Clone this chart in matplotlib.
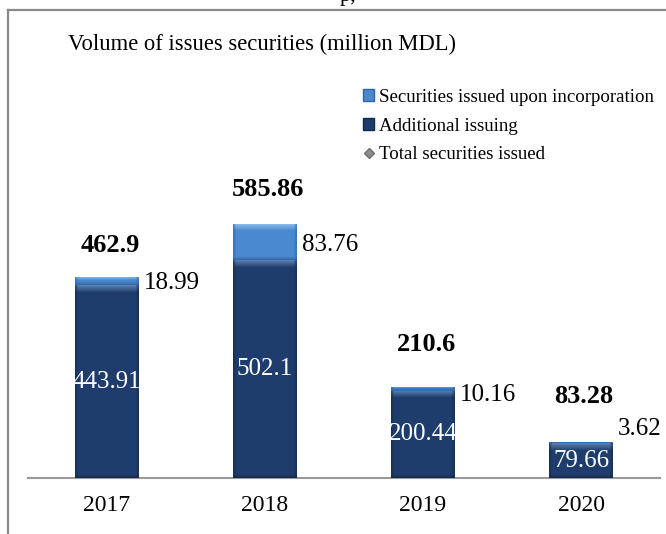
import numpy as np
import matplotlib.pyplot as plt
from matplotlib.lines import Line2D
from matplotlib.patches import Patch
from matplotlib.colors import to_rgb

years = ['2017', '2018', '2019', '2020']
additional = [443.91, 502.1, 200.44, 79.66]
incorporation = [18.99, 83.76, 10.16, 3.62]
totals = [462.9, 585.86, 210.6, 83.28]

plt.rcParams['font.family'] = ['Liberation Serif', 'DejaVu Serif']

W, H = 666, 534
fig = plt.figure(figsize=(W / 100, H / 100), dpi=100)
ax = fig.add_axes([28 / W, 56 / H, 632 / W, 418 / H])

x = np.arange(len(years))
dark_c = '#1f3d6c'
light_c = '#4a89d0'
dark_bars = ax.bar(x, additional, width=0.4, color=dark_c, zorder=2)
light_bars = ax.bar(x, incorporation, bottom=additional, width=0.4,
                    color=light_c, zorder=2)
ax.set_xlim(-0.5, len(years) - 0.5)
ax.set_ylim(0, 963)


def bevel(patch, base, hi, lo):
    # paint a bevelled gradient inside a bar patch
    x0, y0 = patch.get_x(), patch.get_y()
    w, h = patch.get_width(), patch.get_height()
    p0 = ax.transData.transform((x0, y0))
    p1 = ax.transData.transform((x0 + w, y0 + h))
    npx_h = max(int(round(p1[1] - p0[1])), 2)
    npx_w = max(int(round(p1[0] - p0[0])), 2)
    base, hi, lo = np.array(to_rgb(base)), np.array(to_rgb(hi)), np.array(to_rgb(lo))
    img = np.tile(base, (npx_h, npx_w, 1))
    band = min(7, npx_h // 3 + 1)
    for r in range(band):
        t = 1 - r / band
        img[r, :, :] = base + (hi - base) * t
    for r in range(min(3, npx_h)):
        img[npx_h - 1 - r, :, :] = base + (lo - base) * (1 - r / 3) * 0.8
    for c in range(3):
        f = (1 - c / 3) * 0.6
        img[:, c, :] = img[:, c, :] + (lo - img[:, c, :]) * f
        img[:, npx_w - 1 - c, :] = img[:, npx_w - 1 - c, :] + (lo - img[:, npx_w - 1 - c, :]) * f
    im = ax.imshow(img, extent=(x0, x0 + w, y0, y0 + h), aspect='auto',
                   zorder=3, interpolation='bilinear')
    im.set_clip_path(patch)


for p in dark_bars:
    bevel(p, dark_c, '#5a7fb0', '#132848')
for p in light_bars:
    bevel(p, light_c, '#8fc0ee', '#2f65a6')

for s in ['left', 'right', 'top']:
    ax.spines[s].set_visible(False)
ax.spines['bottom'].set_color('#9a9a9a')
ax.spines['bottom'].set_linewidth(1.5)
ax.set_yticks([])
ax.set_xticks(x)
ax.set_xticklabels(years, fontsize=17)
ax.tick_params(axis='x', length=0, pad=12)

# value labels inside the dark segments
for xi, v in zip(x, additional):
    ax.text(xi, v / 2, f'{v:g}', ha='center', va='center', color='white',
            fontsize=18, zorder=5)

# values of the top segments, right of each bar
seg_dy = [-2, -3, -6, 14]
for xi, b, v, dy in zip(x, additional, incorporation, seg_dy):
    ax.annotate(f'{v:g}', (xi + 0.2, b + v / 2), xytext=(5, dy),
                textcoords='offset pixels', ha='left', va='center',
                fontsize=18, zorder=5)

# totals above the bars
tot_dy = [32, 34, 42, 45]
for xi, t, dy in zip(x, totals, tot_dy):
    ax.annotate(f'{t:g}', (xi, t), xytext=(3, dy), textcoords='offset pixels',
                ha='center', va='center', fontsize=19, fontweight='bold',
                zorder=5)

handles = [
    Patch(facecolor=light_c, edgecolor='#2f65a6', label='Securities issued upon incorporation'),
    Patch(facecolor=dark_c, edgecolor='#132848', label='Additional issuing'),
    Line2D([], [], marker='D', color='#8c8c8c', markeredgecolor='#6f6f6f',
           linestyle='none', markersize=5, label='Total securities issued'),
]
fig.legend(handles=handles, loc='upper left', bbox_to_anchor=(363 / W, 1 - 89 / H),
           frameon=False, fontsize=13.6, handlelength=0.6, handleheight=0.6,
           handletextpad=0.25, labelspacing=0.62, borderpad=0, borderaxespad=0)

fig.text(68 / W, 1 - 44 / H, 'Volume of issues securities (million MDL)',
         ha='left', va='center', fontsize=16.3)

# outer frame of the chart area
fc = '#8a8a8a'
fig.add_artist(Line2D([8 / W, 1], [1 - 10 / H, 1 - 10 / H], transform=fig.transFigure,
                      color=fc, lw=1.6))
fig.add_artist(Line2D([8 / W, 8 / W], [0, 1 - 10 / H], transform=fig.transFigure,
                      color=fc, lw=1.6))
fig.text(340 / W, 1 - 1 / H, 'p,', ha='left', va='baseline', fontsize=16)

fig.savefig('out.png', dpi=100)
